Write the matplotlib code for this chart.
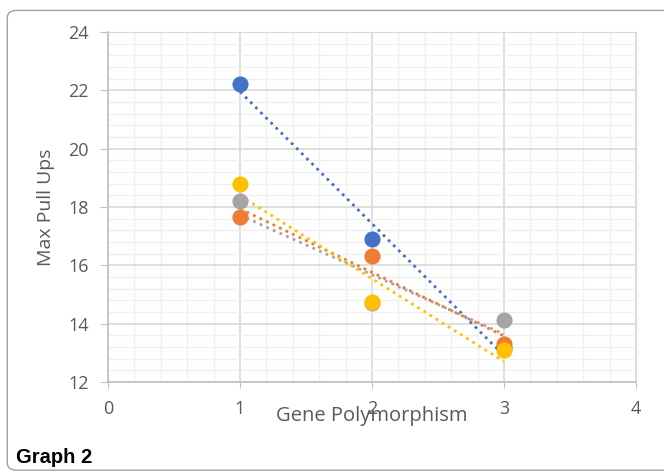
import numpy as np
import matplotlib

matplotlib.use('agg')
import matplotlib.pyplot as plt
import matplotlib.ticker as plticker
from matplotlib.patches import FancyBboxPatch

# data
x = [1, 2, 3]
blue = [22.22, 16.90, 13.17]
orange = [17.66, 16.32, 13.30]
gray = [18.21, 14.70, 14.13]
yellow = [18.79, 14.74, 13.10]

series = [blue, orange, gray, yellow]
colors = ['#4472C4', '#ED7D31', '#A5A5A5', '#FFC000']

plt.rcParams['font.family'] = ['Open Sans', 'DejaVu Sans']

fig = plt.figure(figsize=(6.64, 4.73), dpi=100)

# rounded frame around the figure
frame = FancyBboxPatch((0.011, 0.006), 1.2, 0.972,
                       boxstyle='round,pad=0,rounding_size=0.015',
                       transform=fig.transFigure, fill=False,
                       edgecolor='#A0A0A0', linewidth=1.0, clip_on=False)
fig.patches.append(frame)

ax = fig.add_axes([0.1627, 0.1924, 0.7951, 0.7399])

# trendlines first, markers on top
for vals, c in zip(series, colors):
    k, b = np.polyfit(x, vals, 1)
    xs = np.array([1, 3])
    ax.plot(xs, k * xs + b, linestyle=(0, (1, 1.6)), color=c, linewidth=2.0,
            zorder=3)
for vals, c in zip(series, colors):
    ax.scatter(x, vals, s=135, color=c, zorder=4, linewidths=0)

ax.set_xlim(0, 4)
ax.set_ylim(12, 24)
ax.xaxis.set_major_locator(plticker.MultipleLocator(1))
ax.xaxis.set_minor_locator(plticker.MultipleLocator(0.2))
ax.yaxis.set_major_locator(plticker.MultipleLocator(2))
ax.yaxis.set_minor_locator(plticker.MultipleLocator(0.4))

ax.grid(True, which='major', color='#D9D9D9', linewidth=1.2, zorder=0)
ax.grid(True, which='minor', color='#F0F0F0', linewidth=1.0, zorder=0)
ax.set_axisbelow(True)

for s in ['top', 'right']:
    ax.spines[s].set_color('#D9D9D9')
for s in ['left', 'bottom']:
    ax.spines[s].set_color('#BFBFBF')
    ax.spines[s].set_linewidth(1.2)

ax.tick_params(which='major', axis='y', length=6, color='#BFBFBF',
               labelcolor='#595959', labelsize=13, pad=8)
ax.tick_params(which='major', axis='x', length=4, color='#BFBFBF',
               labelcolor='#595959', labelsize=13, pad=9)
ax.tick_params(which='minor', length=0)

ax.set_xlabel('Gene Polymorphism', fontsize=14.5, color='#595959', labelpad=-9)
ax.set_ylabel('Max Pull Ups', fontsize=14, color='#595959', labelpad=9)

fig.text(0.024, 0.022, 'Graph 2', fontsize=14.5, fontweight='bold',
         family=['Liberation Sans', 'DejaVu Sans'], color='black')

plt.savefig('out.png', dpi=100)
